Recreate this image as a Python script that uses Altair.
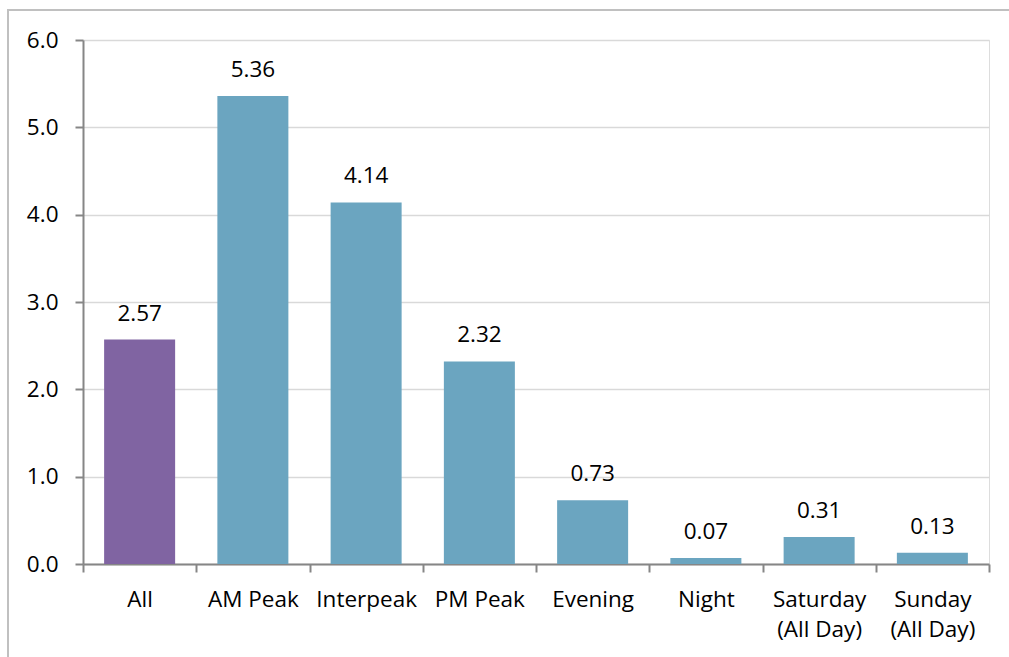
import altair as alt
import pandas as pd

# Average values by time period
periods = ["All", "AM Peak", "Interpeak", "PM Peak", "Evening", "Night",
           "Saturday (All Day)", "Sunday (All Day)"]
values = [2.57, 5.36, 4.14, 2.32, 0.73, 0.07, 0.31, 0.13]
groups = ["total", "period", "period", "period", "period", "period", "period", "period"]

df = pd.DataFrame({"period": periods, "value": values, "group": groups})

FONT = "Open Sans"
FS = 22.5

x_enc = alt.X(
    "period:N",
    sort=periods,
    title=None,
    scale=alt.Scale(paddingInner=0, paddingOuter=0),
    axis=alt.Axis(
        labelAngle=0,
        labelFontSize=FS,
        labelFont=FONT,
        labelColor="#000000",
        labelPadding=16,
        labelLineHeight=30,
        labelExpr=(
            "indexof(datum.label, ' (') > 0 ? "
            "[substring(datum.label, 0, indexof(datum.label, ' (')), "
            "substring(datum.label, indexof(datum.label, ' (') + 1)] : datum.label"
        ),
        tickBand="extent",
        tickSize=8,
        tickColor="#868686",
        tickWidth=2,
        domainColor="#868686",
        domainWidth=2,
        grid=False,
    ),
)

bars = alt.Chart(df).mark_bar(width=alt.RelativeBandSize(0.627)).encode(
    x=x_enc,
    y=alt.Y(
        "value:Q",
        title=None,
        scale=alt.Scale(domain=[0, 6], nice=False),
        axis=alt.Axis(
            values=[0, 1, 2, 3, 4, 5, 6],
            format=".1f",
            labelFontSize=FS,
            labelFont=FONT,
            labelColor="#000000",
            labelPadding=17,
            tickSize=8,
            tickColor="#868686",
            tickWidth=2,
            domainColor="#868686",
            domainWidth=2,
            gridColor="#D9D9D9",
            gridWidth=1.5,
        ),
    ),
    color=alt.Color(
        "group:N",
        scale=alt.Scale(domain=["total", "period"], range=["#8064A2", "#6BA5C0"]),
        legend=None,
    ),
)

labels = alt.Chart(df).mark_text(
    font=FONT, fontSize=FS, color="#000000", baseline="alphabetic", dy=-19
).encode(
    x=alt.X("period:N", sort=periods),
    y="value:Q",
    text=alt.Text("value:Q", format=".2f"),
)

# Outer frame around the chart
frame = alt.Chart(pd.DataFrame({"k": [0]})).mark_rect(
    fill=None, stroke="#C0C0C0", strokeWidth=2
).encode(
    x=alt.value(-75), x2=alt.value(960),
    y=alt.value(-30), y2=alt.value(700),
)

chart = alt.layer(bars, labels, frame).properties(
    width=906,
    height=524,
    padding={"left": 83, "top": 40, "right": 20, "bottom": 93},
    autosize=alt.AutoSizeParams(type="none"),
).configure_view(stroke=None).configure(background="#FFFFFF")

chart.save("out.html", embed_options={"renderer": "svg", "actions": False})
